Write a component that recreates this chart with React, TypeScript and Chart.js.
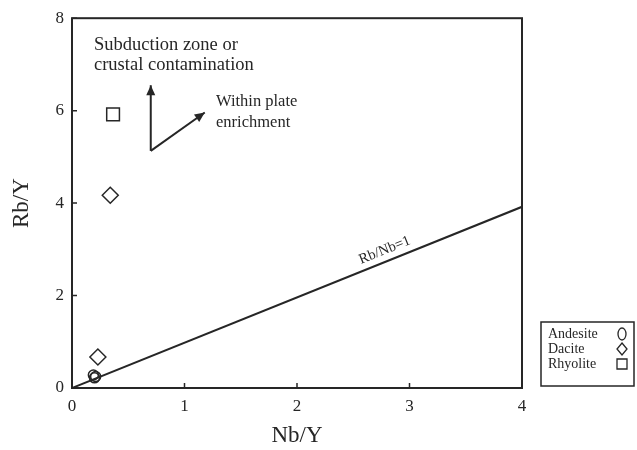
import React, { useEffect, useRef } from "react";
import { Chart, registerables } from "chart.js";

Chart.register(...registerables);

const xTicks = [0, 1, 2, 3, 4];
const yTicks = [0, 2, 4, 6, 8];

const andesite = [
  { x: 0.19, y: 0.28 },
  { x: 0.2, y: 0.22 },
  { x: 0.21, y: 0.25 },
];
const dacite = [
  { x: 0.34, y: 4.17 },
  { x: 0.23, y: 0.67 },
];
const rhyolite = [{ x: 0.365, y: 5.92 }];
const refLine = [
  { x: 0, y: 0 },
  { x: 4, y: 3.92 },
];

const SERIF = "'Liberation Serif', 'DejaVu Serif', serif";
const INK = "#262626";

const overlay = {
  id: "overlay",
  afterDraw(chart: any) {
    const { ctx, chartArea: a, scales } = chart;
    const xs = scales.x;
    const ys = scales.y;
    const px = (v: number) => xs.getPixelForValue(v);
    const py = (v: number) => ys.getPixelForValue(v);
    ctx.save();
    // frame
    ctx.strokeStyle = INK;
    ctx.lineWidth = 2;
    ctx.strokeRect(a.left, a.top, a.right - a.left, a.bottom - a.top);
    // inward ticks
    ctx.lineWidth = 1.5;
    ctx.beginPath();
    xTicks.forEach((t) => {
      const x = px(t);
      ctx.moveTo(x, a.bottom);
      ctx.lineTo(x, a.bottom - 5);
    });
    yTicks.forEach((t) => {
      const y = py(t);
      ctx.moveTo(a.left, y);
      ctx.lineTo(a.left + 5, y);
    });
    ctx.stroke();

    // arrows
    const arrow = (x0: number, y0: number, x1: number, y1: number) => {
      const X0 = px(x0), Y0 = py(y0), X1 = px(x1), Y1 = py(y1);
      ctx.strokeStyle = INK;
      ctx.fillStyle = INK;
      ctx.lineWidth = 2;
      ctx.beginPath();
      ctx.moveTo(X0, Y0);
      ctx.lineTo(X1, Y1);
      ctx.stroke();
      const ang = Math.atan2(Y1 - Y0, X1 - X0);
      const L = 10, W = 4.5;
      ctx.beginPath();
      ctx.moveTo(X1, Y1);
      ctx.lineTo(X1 - L * Math.cos(ang) + W * Math.sin(ang), Y1 - L * Math.sin(ang) - W * Math.cos(ang));
      ctx.lineTo(X1 - L * Math.cos(ang) - W * Math.sin(ang), Y1 - L * Math.sin(ang) + W * Math.cos(ang));
      ctx.closePath();
      ctx.fill();
    };
    arrow(0.7, 5.13, 0.7, 6.55);
    arrow(0.7, 5.13, 1.18, 5.96);

    // annotation text
    ctx.fillStyle = INK;
    ctx.textAlign = "left";
    ctx.textBaseline = "alphabetic";
    ctx.font = `18.5px ${SERIF}`;
    ctx.fillText("Subduction zone or", 94, 50);
    ctx.fillText("crustal contamination", 94, 70);
    ctx.font = `16.5px ${SERIF}`;
    ctx.fillText("Within plate", 216, 106);
    ctx.fillText("enrichment", 216, 127);

    // line label
    const lx = px(2.78), ly = py(2.98);
    const ang = Math.atan2(py(3.92) - py(0), px(4) - px(0));
    ctx.save();
    ctx.translate(lx, ly);
    ctx.rotate(ang);
    ctx.font = `14.5px ${SERIF}`;
    ctx.textAlign = "center";
    ctx.textBaseline = "middle";
    ctx.fillText("Rb/Nb=1", 0, 0);
    ctx.restore();

    // legend
    const lb = { l: 541, t: 322, r: 634, b: 386 };
    ctx.strokeStyle = INK;
    ctx.lineWidth = 1.5;
    ctx.strokeRect(lb.l, lb.t, lb.r - lb.l, lb.b - lb.t);
    ctx.font = `14px ${SERIF}`;
    ctx.textAlign = "left";
    ctx.textBaseline = "middle";
    const items: [string, string][] = [
      ["Andesite", "circle"],
      ["Dacite", "rectRot"],
      ["Rhyolite", "rect"],
    ];
    items.forEach(([label, style], i) => {
      const y = 334 + i * 15;
      ctx.fillStyle = INK;
      ctx.fillText(label, 548, y);
      ctx.strokeStyle = INK;
      ctx.lineWidth = 1.3;
      ctx.beginPath();
      if (style === "circle") {
        ctx.ellipse(622, y, 4, 6, 0, 0, Math.PI * 2);
      } else if (style === "rectRot") {
        ctx.moveTo(622, y - 6);
        ctx.lineTo(627, y);
        ctx.lineTo(622, y + 6);
        ctx.lineTo(617, y);
        ctx.closePath();
      } else {
        ctx.rect(617, y - 5, 10, 10);
      }
      ctx.stroke();
    });
    ctx.restore();
  },
};

export default function App() {
  const ref = useRef<HTMLCanvasElement>(null);
  useEffect(() => {
    if (!ref.current) return;
    const chart = new Chart(ref.current, {
      type: "scatter",
      data: {
        datasets: [
          {
            type: "line",
            label: "Rb/Nb=1",
            data: refLine,
            borderColor: INK,
            borderWidth: 2,
            pointRadius: 0,
            fill: false,
          } as any,
          {
            label: "Andesite",
            data: andesite,
            pointStyle: "circle",
            pointRadius: 5,
            borderColor: INK,
            borderWidth: 1.5,
            backgroundColor: "rgba(0,0,0,0)",
          },
          {
            label: "Dacite",
            data: dacite,
            pointStyle: "rectRot",
            pointRadius: 8,
            borderColor: INK,
            borderWidth: 1.5,
            backgroundColor: "rgba(0,0,0,0)",
          },
          {
            label: "Rhyolite",
            data: rhyolite,
            pointStyle: "rect",
            pointRadius: 9,
            borderColor: INK,
            borderWidth: 1.5,
            backgroundColor: "rgba(0,0,0,0)",
          },
        ],
      },
      options: {
        animation: false,
        responsive: false,
        maintainAspectRatio: false,
        layout: { padding: { top: 17, right: 115, left: 0, bottom: 0 } },
        plugins: { legend: { display: false }, tooltip: { enabled: false } },
        scales: {
          x: {
            type: "linear",
            min: 0,
            max: 4,
            afterFit: (s: any) => {
              s.height = 62;
            },
            afterBuildTicks: (s: any) => {
              s.ticks = xTicks.map((v) => ({ value: v }));
            },
            ticks: {
              padding: 8,
              color: INK,
              font: { family: SERIF, size: 17 },
            },
            grid: { display: false, drawTicks: false },
            border: { display: false },
            title: {
              display: true,
              text: "Nb/Y",
              color: INK,
              font: { family: SERIF, size: 23 },
              padding: { top: 0, bottom: 0 },
            },
          },
          y: {
            type: "linear",
            min: 0,
            max: 8,
            afterFit: (s: any) => {
              s.width = 72;
            },
            afterBuildTicks: (s: any) => {
              s.ticks = yTicks.map((v) => ({ value: v }));
            },
            ticks: {
              padding: 8,
              color: INK,
              font: { family: SERIF, size: 17 },
            },
            grid: { display: false, drawTicks: false },
            border: { display: false },
            title: {
              display: true,
              text: "Rb/Y",
              color: INK,
              font: { family: SERIF, size: 23 },
              padding: { top: 8, bottom: 0 },
            },
          },
        },
      },
      plugins: [overlay],
    });
    return () => chart.destroy();
  }, []);
  return (
    <div style={{ position: "fixed", left: 0, top: 0, width: 637, height: 450, background: "#fff" }}>
      <canvas ref={ref} width={637} height={450} style={{ width: 637, height: 450 }} />
    </div>
  );
}
